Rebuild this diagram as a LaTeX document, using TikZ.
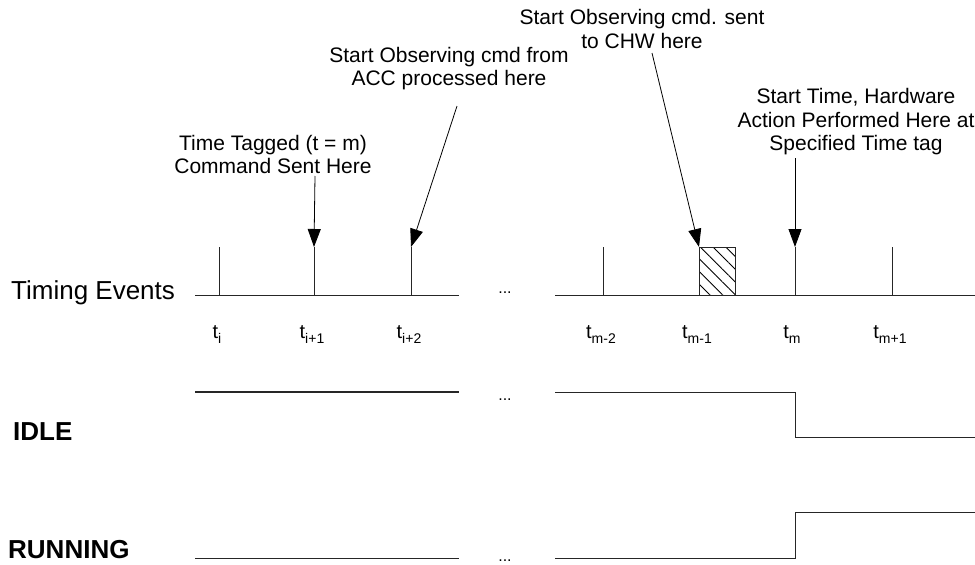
\documentclass[tikz,border=0pt]{standalone}
\usepackage{fontspec}
\setmainfont{Liberation Sans}
\usetikzlibrary{arrows.meta,patterns.meta}

% time-step label: t with a lowered index
\newcommand{\tstep}[1]{t\raisebox{-5pt}{\fontsize{14}{14}\selectfont #1}}

\begin{document}
\begin{tikzpicture}[x=1pt,y=-1pt,
  wire/.style={line width=1pt, draw=black!85},
  heavywire/.style={line width=1.8pt, draw=black!85},
  pointer/.style={line width=0.8pt, draw=black, -{Triangle[length=18pt,width=13pt]}},
  noteline/.style={font=\fontsize{21}{24}\selectfont, inner sep=0pt, anchor=base},
  ticklabel/.style={font=\fontsize{20}{20}\selectfont, inner sep=0pt, anchor=base},
  rowlabel/.style={font=\fontsize{26}{26}\selectfont\bfseries, inner sep=0pt, anchor=base west},
  gapdots/.style={font=\fontsize{16}{16}\selectfont, inner sep=0pt, anchor=base}
]
\useasboundingbox (0,0) rectangle (975,565);
\clip (0,0) rectangle (975,565);

% ---------- row labels ----------
\node[font=\fontsize{26}{26}\selectfont, inner sep=0pt, anchor=base west] (lblTiming) at (11,299) {Timing Events};
\node[rowlabel] (lblIdle) at (13,440) {IDLE};
\node[rowlabel] (lblRun) at (8,558) {RUNNING};

% ---------- timing axis ----------
\coordinate (axL1) at (195,295);
\coordinate (axR1) at (459,295);
\coordinate (axL2) at (555,295);
\coordinate (axR2) at (975,295);
\draw[wire] (axL1) -- (axR1);
\draw[wire] (axL2) -- (axR2);
\node[gapdots] (dotsA) at (505,293) {...};

% tick tops
\coordinate (ti)   at (219,247);
\coordinate (ti1)  at (314,247);
\coordinate (ti2)  at (411,247);
\coordinate (tm2)  at (603,247);
\coordinate (tm1)  at (699,247);
\coordinate (tm)   at (795,247);
\coordinate (tm1p) at (892,247);

\foreach \c in {ti,ti1,ti2,tm2,tm,tm1p}
  \draw[wire] (\c) -- (\c |- axL1);

% hatched interval before t_m
\draw[wire, pattern={Lines[angle=-45,distance=9pt,line width=0.8pt]}]
  (tm1) rectangle (735,295);

% tick labels
\node[ticklabel] (lti)   at (217,338) {\tstep{i}};
\node[ticklabel] (lti1)  at (312,338) {\tstep{i+1}};
\node[ticklabel] (lti2)  at (409,338) {\tstep{i+2}};
\node[ticklabel] (ltm2)  at (601,338) {\tstep{m-2}};
\node[ticklabel] (ltm1)  at (697,338) {\tstep{m-1}};
\node[ticklabel] (ltm)   at (792,338) {\tstep{m}};
\node[ticklabel] (ltm1p) at (890,338) {\tstep{m+1}};

% ---------- annotations ----------
\node[noteline] (n1a) at (273,150) {Time Tagged (t = m)};
\node[noteline] (n1b) at (273,173) {Command Sent Here};

\node[noteline] (n2a) at (449,62) {Start Observing cmd from};
\node[noteline] (n2b) at (449,85) {ACC processed here};

\node[noteline] (n3a) at (642,24) {Start Observing cmd. sent};
\node[noteline] (n3b) at (642,48) {to CHW here};

\node[noteline] (n4a) at (856,103) {Start Time, Hardware};
\node[noteline] (n4b) at (856,127) {Action Performed Here at};
\node[noteline] (n4c) at (856,150) {Specified Time tag};

\coordinate (s1) at (315,176);
\coordinate (s2) at (457,106);
\coordinate (s3) at (652,53);
\coordinate (s4) at (795,158);
\draw[pointer] (s1) -- (ti1);
\draw[pointer] (s2) -- (ti2);
\draw[pointer] (s3) -- (tm1);
\draw[pointer] (s4) -- (tm);

% ---------- IDLE signal ----------
\coordinate (iA) at (195,392);
\coordinate (iB) at (459,392);
\coordinate (iC) at (555,392);
\coordinate (iD) at (795,392);
\coordinate (iE) at (795,437);
\coordinate (iF) at (975,437);
\draw[heavywire] (iA) -- (iB);
\draw[wire] (iC) -- (iD) -- (iE) -- (iF);
\node[gapdots] (dotsB) at (505,400) {...};

% ---------- RUNNING signal ----------
\coordinate (rA) at (195,558);
\coordinate (rB) at (459,558);
\coordinate (rC) at (555,558);
\coordinate (rD) at (795,558);
\coordinate (rE) at (795,512);
\coordinate (rF) at (975,512);
\draw[wire] (rA) -- (rB);
\draw[wire] (rC) -- (rD) -- (rE) -- (rF);
\node[gapdots] (dotsC) at (505,561) {...};
\end{tikzpicture}
\end{document}
